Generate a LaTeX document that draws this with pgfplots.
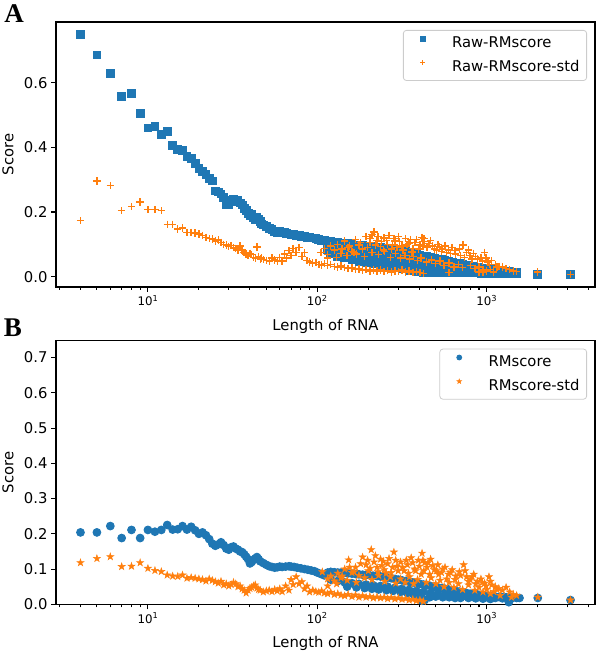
\documentclass[border=0pt]{standalone}
\usepackage{fontspec}
\setmainfont{DejaVu Sans}
\newfontfamily\panelfont{Liberation Serif}
\usepackage{pgfplots}
\pgfplotsset{compat=1.18}
\definecolor{mblue}{HTML}{1F77B4}
\definecolor{morange}{HTML}{FF7F0E}
\pgfdeclareplotmark{fstar}{%
  \pgfpathmoveto{\pgfpointpolar{90}{\pgfplotmarksize}}%
  \pgfpathlineto{\pgfpointpolar{126}{0.382\pgfplotmarksize}}%
  \pgfpathlineto{\pgfpointpolar{162}{\pgfplotmarksize}}%
  \pgfpathlineto{\pgfpointpolar{198}{0.382\pgfplotmarksize}}%
  \pgfpathlineto{\pgfpointpolar{234}{\pgfplotmarksize}}%
  \pgfpathlineto{\pgfpointpolar{270}{0.382\pgfplotmarksize}}%
  \pgfpathlineto{\pgfpointpolar{306}{\pgfplotmarksize}}%
  \pgfpathlineto{\pgfpointpolar{342}{0.382\pgfplotmarksize}}%
  \pgfpathlineto{\pgfpointpolar{18}{\pgfplotmarksize}}%
  \pgfpathlineto{\pgfpointpolar{54}{0.382\pgfplotmarksize}}%
  \pgfpathclose\pgfusepathqfillstroke}
\newcommand{\tfont}{\fontsize{14.8bp}{17bp}\selectfont}
\newcommand{\xfont}{\fontsize{11.8bp}{14bp}\selectfont}
\pgfplotsset{limg/.style={legend image code/.code={\path[draw=none,fill=none] (-12.4bp,0bp) rectangle (29.3bp,1bp); \draw[##1, mark size=2.4bp] plot coordinates {(0bp,5bp)};}}}
\begin{document}
\begin{tikzpicture}[x=1bp,y=1bp]
\useasboundingbox (0,0) rectangle (597,654);
\begin{axis}[xmode=log, scale only axis, width=539bp, height=265bp,
    at={(56bp,367bp)}, anchor=south west,
    xmin=2.868, xmax=4353,
    ymin=-0.032, ymax=0.788, ytick={0,0.2,0.4,0.6},
    xtick={10,100,1000},
    xticklabels={10\textsuperscript{1},10\textsuperscript{2},10\textsuperscript{3}},
    minor xtick={3,4,5,6,7,8,9,20,30,40,50,60,70,80,90,200,300,400,500,600,700,800,900,2000,3000,4000},
    tick pos=left, tick align=outside,
    major tick length=5bp, minor tick length=3bp,
    tick style={black, line width=1.1bp},
    axis line style={line width=1.1bp},
    /pgf/number format/assume math mode=true,
    yticklabel style={font=\tfont, /pgf/number format/.cd, fixed, fixed zerofill, precision=1},
    xticklabel style={font=\xfont},
    label style={font=\tfont},
    xlabel={Length of RNA}, ylabel={Score},
    xlabel style={at={(axis description cs:0.5,-0.147)}, anchor=center},
    ylabel style={at={(axis description cs:-0.089,0.5)}, anchor=center},
    legend cell align=left,
    legend style={at={(1,1)}, anchor=north east, xshift=-8bp, yshift=-8bp,
      draw=black!20, line width=0.8bp, rounded corners=3bp, fill=white,
      font=\tfont, inner xsep=7bp, inner ysep=6bp, row sep=9.8bp,
      nodes={inner xsep=0bp, inner ysep=0bp, text height=10.5bp, text depth=3bp}}]
\addplot[only marks, mark=square*, mark size=3.9bp, mblue, mark options={line width=0.9bp, draw=mblue, fill=mblue}, limg] coordinates {
(4,0.750)(5,0.686)(6,0.628)(7,0.557)(8,0.566)(9,0.506)(10,0.460)(11,0.464)(12,0.440)(13,0.449)(14,0.407)(15,0.394)(16,0.390)(17,0.372)(18,0.366)(19,0.350)(20,0.334)(21,0.326)(22,0.316)(23,0.305)(24,0.296)(25,0.265)(26,0.262)(27,0.256)(28,0.246)(29,0.222)(30,0.224)(31,0.236)(32,0.238)(33,0.232)(34,0.235)(35,0.228)(36,0.222)(37,0.212)(38,0.204)(39,0.196)(40,0.190)(41,0.193)(42,0.182)(43,0.178)(44,0.184)(45,0.176)(46,0.170)(47,0.163)(48,0.160)(50,0.155)(52,0.150)(54,0.146)(56,0.140)(58,0.137)(60,0.140)(62,0.138)(64,0.136)(66,0.134)(68,0.132)(70,0.131)(72,0.130)(75,0.128)(78,0.127)(81,0.125)(84,0.124)(87,0.122)(90,0.121)(94,0.120)(98,0.118)(102,0.116)(106,0.113)(110,0.112)
(115,0.110)(120,0.108)(126,0.106)(132,0.105)(138,0.104)(145,0.103)(152,0.102)(160,0.100)(168,0.098)(176,0.097)(185,0.096)(194,0.095)(204,0.094)(214,0.093)(225,0.092)(236,0.090)(248,0.088)(260,0.086)(273,0.084)(287,0.082)(301,0.080)(316,0.079)(332,0.077)(348,0.075)(366,0.072)(384,0.070)(403,0.067)(423,0.064)(444,0.062)(466,0.060)(490,0.057)(514,0.055)(540,0.052)(567,0.050)(595,0.047)(625,0.045)(656,0.042)(689,0.040)(723,0.037)(760,0.035)(798,0.033)(838,0.031)(880,0.029)(924,0.027)(970,0.025)(1018,0.023)(1069,0.022)(1122,0.020)(1178,0.019)(1237,0.018)(1300,0.016)(1365,0.015)(1433,0.014)(1500,0.013)(2000,0.008)(3120,0.006)
(130,0.092)(150,0.088)(170,0.080)(190,0.076)(210,0.074)(230,0.070)(255,0.066)(280,0.063)(310,0.060)(340,0.058)(375,0.055)(410,0.050)(450,0.047)(500,0.044)(550,0.040)(610,0.036)(670,0.033)(740,0.030)(820,0.026)(900,0.023)(1000,0.020)(1100,0.018)(1250,0.015)(1400,0.013)
(115,0.085)(126,0.078)(138,0.072)(152,0.066)(168,0.060)(185,0.057)(204,0.055)(225,0.052)(248,0.048)(273,0.045)(301,0.042)(332,0.040)(366,0.038)(403,0.035)(444,0.033)(490,0.030)(540,0.028)(595,0.026)(656,0.024)(723,0.022)(798,0.020)(880,0.018)(970,0.017)(1069,0.016)(1178,0.014)(1300,0.012)(1433,0.011)
(120,0.070)(132,0.062)(145,0.058)(160,0.052)(176,0.048)(194,0.044)(214,0.040)(236,0.036)(260,0.032)(287,0.028)(316,0.024)(348,0.020)(384,0.016)(423,0.013)(466,0.012)(514,0.012)(567,0.012)(625,0.012)(689,0.012)(760,0.012)(838,0.012)(924,0.011)(1018,0.011)(1122,0.010)(1237,0.010)(1365,0.010)(1500,0.010)
};
\addlegendentry{Raw-RMscore}
\addplot[only marks, mark=+, mark size=3.7bp, morange, mark options={line width=1.4bp}, limg] coordinates {
(4,0.173)(5,0.296)(6,0.282)(7,0.204)(8,0.217)(9,0.231)(10,0.207)(11,0.207)(12,0.204)(13,0.162)(14,0.162)(15,0.148)(16,0.150)(17,0.136)(18,0.137)(19,0.135)(20,0.132)(21,0.128)(22,0.122)(23,0.118)(24,0.116)(25,0.110)(26,0.113)(27,0.106)(28,0.100)(29,0.098)(30,0.094)(31,0.096)(32,0.090)(33,0.088)(34,0.083)(35,0.095)(36,0.082)(37,0.075)(38,0.070)(39,0.066)(40,0.072)(41,0.068)(42,0.060)(43,0.058)(44,0.092)(45,0.062)(46,0.055)(47,0.058)(48,0.053)(50,0.050)(52,0.048)(54,0.058)(56,0.052)(58,0.048)(60,0.060)(62,0.048)(64,0.070)(66,0.058)(68,0.080)(70,0.066)(72,0.087)(75,0.074)(78,0.090)(81,0.062)(84,0.074)(87,0.050)
(90,0.045)(94,0.042)(98,0.044)(102,0.038)(106,0.036)(110,0.040)(115,0.034)(120,0.038)(126,0.032)(132,0.030)(138,0.033)(145,0.028)(152,0.025)(160,0.027)(168,0.022)(176,0.024)(185,0.020)(194,0.022)(204,0.018)(214,0.021)(225,0.017)(236,0.020)(248,0.016)(260,0.019)(273,0.015)(287,0.018)(301,0.016)(316,0.020)(332,0.014)(348,0.017)(366,0.013)(384,0.016)(403,0.012)(423,0.010)
(105,0.075)(110,0.088)(115,0.068)(120,0.095)(126,0.082)(132,0.100)(138,0.072)(145,0.110)(152,0.090)(160,0.078)(168,0.115)(176,0.098)(185,0.085)(194,0.125)(204,0.105)(210,0.130)(216,0.138)(225,0.112)(236,0.094)(248,0.120)(260,0.100)(273,0.085)(287,0.110)(301,0.125)(316,0.095)(332,0.118)(348,0.102)(366,0.088)(384,0.115)(403,0.098)(415,0.122)(430,0.108)(444,0.092)(466,0.112)(490,0.085)(514,0.100)(540,0.078)(567,0.095)(595,0.082)(625,0.090)(656,0.070)(689,0.085)(723,0.098)(760,0.075)(798,0.065)(838,0.072)(880,0.055)(924,0.060)(970,0.075)(1018,0.045)(1069,0.050)(1122,0.038)(1178,0.032)(1237,0.030)(1300,0.025)(1365,0.022)(1433,0.018)(1500,0.016)(2000,0.015)(3120,0.006)
(115,0.058)(130,0.060)(150,0.065)(170,0.070)(190,0.062)(210,0.075)(230,0.068)(250,0.078)(270,0.060)(290,0.072)(310,0.058)(330,0.066)(350,0.055)(370,0.062)(390,0.050)(410,0.058)(440,0.045)(470,0.052)(500,0.040)(530,0.048)(560,0.035)(600,0.042)(640,0.030)(680,0.038)(720,0.028)(800,0.035)(850,0.025)(900,0.030)(950,0.020)(1000,0.018)(1050,0.022)(1100,0.015)(600,0.013)(900,0.014)(950,0.012)
(140,0.085)(155,0.095)(165,0.075)(180,0.105)(198,0.090)(205,0.118)(220,0.098)(228,0.125)(240,0.108)(245,0.082)(255,0.112)(265,0.128)(278,0.098)(283,0.118)(295,0.090)(305,0.108)(320,0.082)(338,0.100)(355,0.115)(362,0.076)(378,0.105)(395,0.085)(420,0.095)(425,0.118)(455,0.102)(480,0.095)(505,0.082)(525,0.092)(550,0.085)(580,0.075)(610,0.072)(650,0.080)(700,0.065)(740,0.060)(780,0.082)(820,0.055)(860,0.062)(940,0.048)(990,0.058)(1040,0.038)(1150,0.030)
};
\addlegendentry{Raw-RMscore-std}
\end{axis}
\begin{axis}[xmode=log, scale only axis, width=539bp, height=263.6bp,
    at={(56bp,49.7bp)}, anchor=south west,
    xmin=2.868, xmax=4353,
    ymin=0, ymax=0.748, ytick={0,0.1,0.2,0.3,0.4,0.5,0.6,0.7},
    xtick={10,100,1000},
    xticklabels={10\textsuperscript{1},10\textsuperscript{2},10\textsuperscript{3}},
    minor xtick={3,4,5,6,7,8,9,20,30,40,50,60,70,80,90,200,300,400,500,600,700,800,900,2000,3000,4000},
    tick pos=left, tick align=outside,
    major tick length=5bp, minor tick length=3bp,
    tick style={black, line width=1.1bp},
    axis line style={line width=1.1bp},
    /pgf/number format/assume math mode=true,
    yticklabel style={font=\tfont, /pgf/number format/.cd, fixed, fixed zerofill, precision=1},
    xticklabel style={font=\xfont},
    label style={font=\tfont},
    xlabel={Length of RNA}, ylabel={Score},
    xlabel style={at={(axis description cs:0.5,-0.148)}, anchor=center},
    ylabel style={at={(axis description cs:-0.089,0.5)}, anchor=center},
    legend cell align=left,
    legend style={at={(1,1)}, anchor=north east, xshift=-8bp, yshift=-8bp,
      draw=black!20, line width=0.8bp, rounded corners=3bp, fill=white,
      font=\tfont, inner xsep=7bp, inner ysep=6bp, row sep=9.8bp,
      nodes={inner xsep=0bp, inner ysep=0bp, text height=10.5bp, text depth=3bp}}]
\addplot[only marks, mark=*, mark size=3.9bp, mblue, mark options={line width=0.9bp, draw=mblue, fill=mblue}, limg] coordinates {
(4,0.204)(5,0.204)(6,0.222)(7,0.188)(8,0.211)(9,0.188)(10,0.211)(11,0.206)(12,0.211)(13,0.225)(14,0.212)(15,0.213)(16,0.222)(17,0.212)(18,0.220)(19,0.210)(20,0.200)(21,0.204)(22,0.196)(23,0.185)(24,0.172)(25,0.166)(26,0.170)(27,0.176)(28,0.168)(29,0.158)(30,0.155)(31,0.162)(32,0.164)(33,0.158)(34,0.155)(35,0.150)(36,0.148)(37,0.142)(38,0.135)(39,0.128)(40,0.116)(41,0.120)(42,0.126)(43,0.130)(44,0.134)(45,0.128)(46,0.122)(48,0.117)(50,0.112)(52,0.108)(54,0.106)(56,0.104)(58,0.105)(60,0.107)(62,0.106)(65,0.107)(68,0.108)(70,0.107)(73,0.106)(76,0.104)(80,0.102)(84,0.100)(88,0.098)(92,0.096)(96,0.094)(100,0.090)(105,0.086)(110,0.082)
(115,0.090)(120,0.092)(126,0.091)(132,0.090)(138,0.090)(145,0.089)(152,0.088)(160,0.087)(168,0.086)(176,0.085)(185,0.084)(194,0.083)(204,0.082)(214,0.081)(225,0.080)(236,0.079)(248,0.078)(260,0.076)(273,0.074)(287,0.072)(301,0.070)(316,0.068)(332,0.066)(348,0.064)(366,0.062)(384,0.060)(403,0.058)(423,0.056)(444,0.054)(466,0.052)(490,0.050)(514,0.048)(540,0.046)(567,0.044)(595,0.042)(625,0.040)(656,0.038)(689,0.036)(723,0.034)(760,0.032)(798,0.030)(838,0.029)(880,0.028)(924,0.026)(970,0.025)(1018,0.024)(1069,0.023)(1122,0.022)(1178,0.021)(1237,0.020)(1300,0.020)(1365,0.019)(1433,0.019)(1500,0.018)(1560,0.018)(2000,0.018)(3120,0.012)
(120,0.070)(132,0.066)(145,0.062)(160,0.060)(176,0.058)(194,0.056)(214,0.054)(236,0.052)(260,0.050)(287,0.047)(316,0.044)(348,0.041)(384,0.038)(423,0.035)(466,0.032)(514,0.030)(567,0.028)(625,0.026)(689,0.024)(760,0.022)(838,0.021)(924,0.020)(1018,0.019)(1122,0.018)(1237,0.017)(1365,0.016)(1350,0.006)
(150,0.050)(170,0.048)(190,0.046)(210,0.044)(230,0.042)(255,0.040)(280,0.038)(310,0.035)(340,0.032)(370,0.028)(400,0.022)(415,0.010)(430,0.012)(460,0.020)(500,0.022)(550,0.020)(600,0.020)(650,0.018)(700,0.018)(780,0.018)(860,0.017)(950,0.016)(1050,0.015)
};
\addlegendentry{RMscore}
\addplot[only marks, mark=fstar, mark size=3.7bp, morange, mark options={line width=0.5bp, draw=morange, fill=morange}, limg] coordinates {
(4,0.118)(5,0.130)(6,0.135)(7,0.107)(8,0.108)(9,0.118)(10,0.102)(11,0.096)(12,0.093)(13,0.083)(14,0.080)(15,0.079)(16,0.083)(17,0.074)(18,0.076)(19,0.074)(20,0.072)(21,0.070)(22,0.066)(23,0.072)(24,0.068)(25,0.064)(26,0.060)(27,0.065)(28,0.055)(29,0.058)(30,0.052)(31,0.056)(32,0.062)(33,0.058)(34,0.050)(35,0.052)(36,0.044)(37,0.040)(38,0.032)(39,0.040)(40,0.045)(41,0.048)(42,0.052)(43,0.055)(44,0.046)(45,0.042)(46,0.040)(48,0.035)(50,0.038)(52,0.040)(54,0.036)(56,0.042)(58,0.038)(60,0.044)(62,0.036)(65,0.052)(68,0.040)(70,0.070)(72,0.056)(75,0.078)(78,0.058)(81,0.064)(84,0.044)(87,0.052)(90,0.035)
(94,0.040)(98,0.036)(102,0.034)(106,0.038)(110,0.032)(115,0.030)(120,0.034)(126,0.028)(132,0.030)(138,0.026)(145,0.024)(152,0.028)(160,0.022)(168,0.026)(176,0.020)(185,0.024)(194,0.020)(204,0.022)(214,0.018)(225,0.021)(236,0.018)(248,0.020)(260,0.016)(273,0.019)(287,0.015)(301,0.018)(316,0.014)(332,0.016)(348,0.012)(366,0.014)(384,0.010)(403,0.012)(423,0.008)
(107,0.092)(115,0.072)(120,0.080)(126,0.066)(132,0.088)(138,0.075)(145,0.100)(153,0.126)(160,0.090)(168,0.105)(176,0.082)(185,0.134)(194,0.112)(200,0.095)(208,0.155)(216,0.120)(225,0.105)(236,0.128)(248,0.098)(260,0.115)(273,0.090)(283,0.148)(295,0.108)(310,0.120)(325,0.095)(340,0.112)(358,0.132)(375,0.100)(395,0.125)(415,0.145)(430,0.118)(444,0.105)(466,0.128)(490,0.098)(514,0.112)(540,0.090)(567,0.105)(595,0.085)(625,0.098)(656,0.080)(689,0.092)(730,0.112)(760,0.078)(798,0.070)(838,0.085)(880,0.065)(924,0.072)(970,0.060)(1030,0.078)(1069,0.055)(1122,0.050)(1178,0.045)(1237,0.040)(1300,0.048)(1365,0.035)(1433,0.028)(1500,0.025)(2000,0.020)(3120,0.012)
(115,0.052)(130,0.058)(150,0.068)(170,0.062)(190,0.075)(210,0.070)(230,0.082)(250,0.065)(270,0.078)(290,0.060)(310,0.072)(330,0.062)(350,0.078)(370,0.058)(390,0.070)(410,0.085)(440,0.062)(470,0.075)(500,0.058)(530,0.068)(560,0.050)(600,0.062)(640,0.048)(680,0.058)(720,0.042)(780,0.055)(850,0.040)(900,0.048)(950,0.035)(1000,0.042)(1050,0.030)(1100,0.036)(1200,0.025)(1400,0.020)
(140,0.080)(155,0.105)(165,0.092)(180,0.115)(198,0.125)(205,0.102)(220,0.138)(228,0.092)(240,0.110)(245,0.122)(255,0.088)(265,0.130)(278,0.105)(290,0.125)(300,0.095)(318,0.105)(335,0.125)(345,0.088)(365,0.118)(380,0.095)(400,0.108)(420,0.125)(425,0.095)(450,0.118)(460,0.085)(480,0.110)(505,0.095)(520,0.085)(550,0.100)(580,0.072)(610,0.090)(650,0.070)(700,0.082)(745,0.095)(780,0.065)(820,0.078)(860,0.058)(940,0.062)(990,0.052)(1050,0.065)(1150,0.042)
};
\addlegendentry{RMscore-std}
\end{axis}
\node[font=\panelfont\bfseries\fontsize{27bp}{30bp}\selectfont] at (14,640) {A};
\node[font=\panelfont\bfseries\fontsize{27bp}{30bp}\selectfont] at (13,326) {B};
\end{tikzpicture}
\end{document}
